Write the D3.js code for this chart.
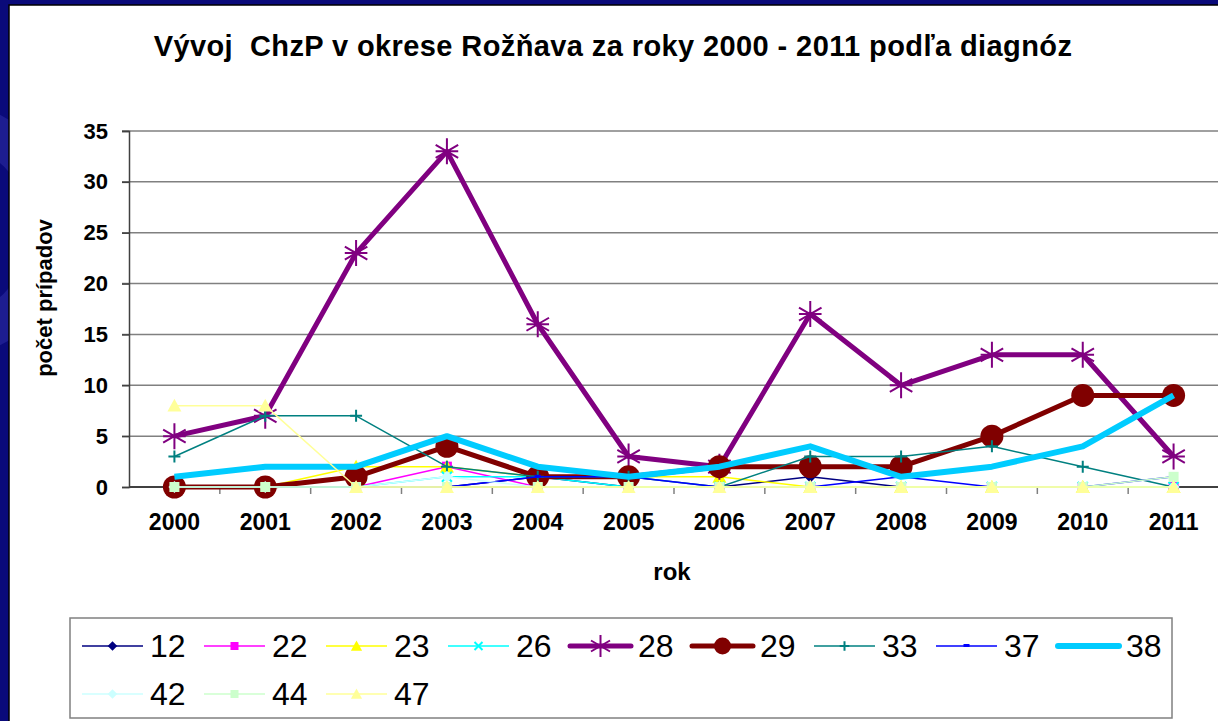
<!DOCTYPE html>
<html>
<head>
<meta charset="utf-8">
<script src="https://cdn.jsdelivr.net/npm/d3@7"></script>
<style>
  html, body { margin: 0; padding: 0; background: #0a0a7a; }
  svg { display: block; }
</style>
</head>
<body>
<svg id="chart" width="1218" height="721"></svg>
<script>
// data
var years = ["2000","2001","2002","2003","2004","2005","2006","2007","2008","2009","2010","2011"];
var yTicks = [0, 5, 10, 15, 20, 25, 30, 35];

var s12 = [0,0,0,0,1,0,0,1,0,0,0,0];
var s22 = [0,0,0,2,0,0,0,0,0,0,0,0];
var s23 = [0,0,2,2,1,1,1,0,0,0,0,0];
var s26 = [0,0,0,1,1,0,0,0,0,0,0,0];
var s28 = [5,7,23,33,16,3,2,17,10,13,13,3];
var s29 = [0,0,1,4,1,1,2,2,2,5,9,9];
var s33 = [3,7,7,2,1,1,0,3,3,4,2,0];
var s37 = [0,0,0,0,1,1,0,0,1,0,0,1];
var s38 = [1,2,2,5,2,1,2,4,1,2,4,9];
var s42 = [0,0,0,1,0,0,0,0,0,0,0,0];
var s44 = [0,0,0,0,0,0,0,0,0,0,0,1];
var s47 = [8,8,0,0,0,0,0,0,0,0,0,0];

var series = [
  {name: "12", values: s12, color: "#000080", width: 1.5, marker: "diamond"},
  {name: "22", values: s22, color: "#ff00ff", width: 1.5, marker: "square"},
  {name: "23", values: s23, color: "#ffff00", width: 1.5, marker: "triangle"},
  {name: "26", values: s26, color: "#00ffff", width: 1.5, marker: "x"},
  {name: "28", values: s28, color: "#800080", width: 5, marker: "star"},
  {name: "29", values: s29, color: "#800000", width: 5, marker: "circle"},
  {name: "33", values: s33, color: "#008080", width: 1.5, marker: "plus"},
  {name: "37", values: s37, color: "#0000ff", width: 1.5, marker: "dash"},
  {name: "38", values: s38, color: "#00ccff", width: 6, marker: "none"},
  {name: "42", values: s42, color: "#ccffff", width: 1.5, marker: "diamond"},
  {name: "44", values: s44, color: "#ccffcc", width: 1.5, marker: "square"},
  {name: "47", values: s47, color: "#ffff99", width: 1.5, marker: "triangle"}
];

var svg = d3.select("#chart");
var W = 1218, H = 721;

// slide background + white panel
svg.append("rect").attr("width", W).attr("height", H).attr("fill", "#0a0a7a");
svg.append("circle").attr("cx", -60).attr("cy", 230).attr("r", 110)
  .attr("fill", "none").attr("stroke", "#2a2aa0").attr("stroke-width", 40).attr("opacity", 0.6);
svg.append("rect").attr("x", 9).attr("y", 5).attr("width", W).attr("height", H)
  .attr("fill", "#fff").attr("stroke", "#000").attr("stroke-width", 1.5);

var font = "Arial, 'Liberation Sans', sans-serif";

svg.append("text").attr("x", 613).attr("y", 56).attr("text-anchor", "middle")
  .style("font-family", font).style("font-size", "29px").style("font-weight", "bold")
  .style("letter-spacing", "0.4px")
  .attr("xml:space", "preserve")
  .text("Vývoj  ChzP v okrese Rožňava za roky 2000 - 2011 podľa diagnóz");

var plot = {left: 129, right: 1219, top: 131, bottom: 487};

var x = d3.scaleBand().domain(years).range([plot.left, plot.right]);
var y = d3.scaleLinear().domain([0, 35]).range([plot.bottom, plot.top]);

// gridlines
svg.append("g").selectAll("line").data(yTicks.filter(function(d) { return d > 0; }))
  .enter().append("line")
  .attr("x1", plot.left - 7).attr("x2", plot.right)
  .attr("y1", function(d) { return y(d); }).attr("y2", function(d) { return y(d); })
  .attr("stroke", "#808080").attr("stroke-width", 1.5);

// y axis
var yAxis = svg.append("g").attr("transform", "translate(" + plot.left + ",0)")
  .call(d3.axisLeft(y).tickValues(yTicks).tickSize(7).tickPadding(14));
yAxis.select(".domain").attr("stroke", "#404040").attr("stroke-width", 1.5);
yAxis.selectAll(".tick line").attr("stroke", "#404040").attr("stroke-width", 1.5);
yAxis.selectAll("text").style("font-family", font).style("font-size", "22px")
  .style("font-weight", "bold").attr("fill", "#000");

// x axis with ticks between categories
var xAxis = svg.append("g").attr("transform", "translate(0," + plot.bottom + ")")
  .call(d3.axisBottom(x).tickSize(0).tickPadding(27));
xAxis.select(".domain").remove();
xAxis.selectAll("text").style("font-family", font).style("font-size", "23px")
  .style("font-weight", "bold").attr("fill", "#000");
svg.append("line").attr("x1", plot.left).attr("x2", plot.right)
  .attr("y1", plot.bottom).attr("y2", plot.bottom).attr("stroke", "#404040").attr("stroke-width", 2);
svg.append("g").selectAll("line").data(years.slice(1)).enter().append("line")
  .attr("x1", function(d) { return x(d); }).attr("x2", function(d) { return x(d); })
  .attr("y1", plot.bottom).attr("y2", plot.bottom + 7)
  .attr("stroke", "#808080").attr("stroke-width", 1.5);

svg.append("text").attr("x", 672).attr("y", 580).attr("text-anchor", "middle")
  .style("font-family", font).style("font-size", "24px").style("font-weight", "bold").text("rok");
svg.append("text").attr("transform", "translate(52,298) rotate(-90)").attr("text-anchor", "middle")
  .style("font-family", font).style("font-size", "22px").style("font-weight", "bold").text("počet prípadov");

function drawMarker(g, s, cx, cy, big) {
  var k = big ? 1 : 0.8;
  if (s.marker === "diamond") {
    var r = 6 * k;
    g.append("path").attr("d", "M" + cx + "," + (cy - r) + "L" + (cx + r) + "," + cy + "L" + cx + "," + (cy + r) + "L" + (cx - r) + "," + cy + "Z")
      .attr("fill", s.color);
  } else if (s.marker === "square") {
    var h = 5 * k;
    g.append("rect").attr("x", cx - h).attr("y", cy - h).attr("width", 2 * h).attr("height", 2 * h).attr("fill", s.color);
  } else if (s.marker === "triangle") {
    var t = 7 * k;
    g.append("path").attr("d", "M" + cx + "," + (cy - t) + "L" + (cx + t) + "," + (cy + t * 0.85) + "L" + (cx - t) + "," + (cy + t * 0.85) + "Z")
      .attr("fill", s.color);
  } else if (s.marker === "x") {
    var a = 5 * k;
    g.append("path").attr("d", "M" + (cx - a) + "," + (cy - a) + "L" + (cx + a) + "," + (cy + a) + "M" + (cx + a) + "," + (cy - a) + "L" + (cx - a) + "," + (cy + a))
      .attr("stroke", s.color).attr("stroke-width", 2);
  } else if (s.marker === "plus") {
    var p = 6 * k;
    g.append("path").attr("d", "M" + (cx - p) + "," + cy + "L" + (cx + p) + "," + cy + "M" + cx + "," + (cy - p) + "L" + cx + "," + (cy + p))
      .attr("stroke", s.color).attr("stroke-width", 2);
  } else if (s.marker === "dash") {
    g.append("rect").attr("x", cx - 3).attr("y", cy - 2).attr("width", 6).attr("height", 3).attr("fill", s.color);
  } else if (s.marker === "circle") {
    g.append("circle").attr("cx", cx).attr("cy", cy).attr("r", big ? 11.5 : 8.5).attr("fill", s.color);
  } else if (s.marker === "star") {
    var q = big ? 13 : 11;
    var d = "";
    [0, 60, 120].forEach(function(ang) {
      var rad = (ang + 90) * Math.PI / 180;
      d += "M" + (cx - q * Math.cos(rad)) + "," + (cy - q * Math.sin(rad)) + "L" + (cx + q * Math.cos(rad)) + "," + (cy + q * Math.sin(rad));
    });
    d += "M" + (cx - q * 0.87) + "," + cy + "L" + (cx + q * 0.87) + "," + cy;
    g.append("path").attr("d", d).attr("stroke", s.color).attr("stroke-width", 2);
  }
}

var line = d3.line()
  .x(function(d, i) { return x(years[i]) + x.bandwidth() / 2; })
  .y(function(d) { return y(d); });

series.forEach(function(s) {
  var g = svg.append("g");
  g.append("path").datum(s.values).attr("d", line)
    .attr("fill", "none").attr("stroke", s.color).attr("stroke-width", s.width)
    .attr("stroke-linejoin", "round");
  s.values.forEach(function(v, i) {
    drawMarker(g, s, x(years[i]) + x.bandwidth() / 2, y(v), true);
  });
});

// legend
var lg = svg.append("g");
lg.append("rect").attr("x", 70).attr("y", 618).attr("width", 1102).attr("height", 100)
  .attr("fill", "#fff").attr("stroke", "#808080").attr("stroke-width", 1.5);
series.forEach(function(s, i) {
  var col = i < 9 ? i : i - 9;
  var row = i < 9 ? 0 : 1;
  var lx = 82 + col * 122;
  var ly = 646 + row * 48;
  lg.append("line").attr("x1", lx).attr("x2", lx + 61).attr("y1", ly).attr("y2", ly)
    .attr("stroke", s.color).attr("stroke-width", s.width).attr("stroke-linecap", s.width > 2 ? "round" : "butt");
  drawMarker(lg, s, lx + 30.5, ly, false);
  lg.append("text").attr("x", lx + 68).attr("y", ly + 11)
    .style("font-family", font).style("font-size", "32px").attr("fill", "#000").text(s.name);
});
</script>
</body>
</html>
